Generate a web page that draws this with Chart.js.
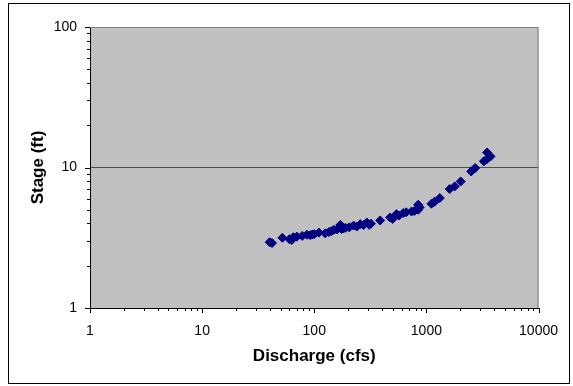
<!DOCTYPE html>
<html>
<head>
<meta charset="utf-8">
<script src="https://cdn.jsdelivr.net/npm/chart.js@4"></script>
<style>
  html, body { margin: 0; padding: 0; background: #fff; }
  canvas { display: block; }
</style>
</head>
<body>
<canvas id="rating" width="573" height="386"></canvas>
<script>
// rating curve points
const discharge = [40, 42, 52, 60, 63, 65, 70, 78, 86, 92, 96, 100, 110, 125, 135, 142, 150, 160, 171, 175,
    183, 190, 205, 224, 240, 257, 275, 294, 309, 320, 387, 474, 500, 542, 570, 622, 660, 737, 780, 845,
    845, 870, 1109, 1180, 1316, 1614, 1787, 2022, 2510, 2722, 3251, 3475, 3475, 3730];
const stage = [2.94, 2.9, 3.16, 3.09, 3.05, 3.19, 3.22, 3.26, 3.32, 3.3, 3.33, 3.36, 3.44, 3.4, 3.47, 3.52, 3.6, 3.62, 3.91, 3.65,
    3.70, 3.72, 3.75, 3.86, 3.8, 3.95, 3.9, 4.06, 3.91, 3.98, 4.20, 4.41, 4.3, 4.66, 4.55, 4.74, 4.8, 4.86, 4.9, 5.43,
    5.0, 5.2, 5.52, 5.7, 6.06, 7.03, 7.33, 7.96, 9.38, 9.92, 11.06, 11.5, 12.8, 12.0];

const xTicks = [1, 10, 100, 1000, 10000];
const yTicks = [1, 10, 100];

const points = discharge.map((q, i) => ({ x: q, y: stage[i] }));

// gray plot area, outer frame and log tick marks (Excel look)
const excelFrame = {
    id: "excelFrame",
    beforeDraw(chart) {
        const { ctx, chartArea: a } = chart;
        ctx.save();
        ctx.fillStyle = "#C0C0C0";
        ctx.fillRect(a.left, a.top, a.right - a.left, a.bottom - a.top);
        ctx.restore();
    },
    afterDraw(chart) {
        const { ctx, chartArea: a, scales } = chart;
        ctx.save();
        // top and right edge of plot area
        ctx.strokeStyle = "#808080";
        ctx.lineWidth = 1;
        ctx.beginPath();
        ctx.moveTo(a.left, a.top + 0.5);
        ctx.lineTo(a.right - 0.5, a.top + 0.5);
        ctx.lineTo(a.right - 0.5, a.bottom);
        ctx.stroke();

        // tick marks, major and minor
        ctx.strokeStyle = "#000";
        ctx.beginPath();
        for (let i = 0; i < xTicks.length; i++) {
            const d = xTicks[i];
            for (let k = 1; k <= 9; k++) {
                const v = d * k;
                if (v > xTicks[xTicks.length - 1]) break;
                const px = Math.round(scales.x.getPixelForValue(v)) + 0.5;
                const len = k === 1 ? 5 : 3;
                ctx.moveTo(px, a.bottom);
                ctx.lineTo(px, a.bottom + len);
            }
        }
        for (let i = 0; i < yTicks.length; i++) {
            const d = yTicks[i];
            for (let k = 1; k <= 9; k++) {
                const v = d * k;
                if (v > yTicks[yTicks.length - 1]) break;
                const py = Math.round(scales.y.getPixelForValue(v)) + 0.5;
                const len = k === 1 ? 5 : 3;
                ctx.moveTo(a.left, py);
                ctx.lineTo(a.left - len, py);
            }
        }
        ctx.stroke();

        // chart border
        ctx.strokeStyle = "#000";
        ctx.strokeRect(8.5, 3.5, 561, 380);
        ctx.restore();
    }
};

new Chart(document.getElementById("rating"), {
    type: "scatter",
    data: {
        datasets: [{
            data: points,
            pointStyle: "rectRot",
            pointRadius: 4.5,
            pointBorderWidth: 1,
            backgroundColor: "#000080",
            borderColor: "#000080"
        }]
    },
    options: {
        responsive: false,
        animation: false,
        devicePixelRatio: 1,
        layout: { padding: { top: 27, right: 32, left: 0, bottom: 0 } },
        plugins: {
            legend: { display: false },
            tooltip: { enabled: false }
        },
        scales: {
            x: {
                type: "logarithmic",
                min: 1,
                max: 10000,
                afterBuildTicks: s => { s.ticks = xTicks.map(v => ({ value: v })); },
                afterFit: s => { s.height = 78; },
                grid: { display: false, drawTicks: false },
                border: { display: true, color: "#000", width: 1 },
                ticks: {
                    padding: 15,
                    maxRotation: 0,
                    autoSkip: false,
                    color: "#000",
                    font: { family: "Arial, 'Liberation Sans'", size: 14 },
                    callback: v => String(v)
                },
                title: {
                    display: true,
                    text: "Discharge (cfs)",
                    color: "#000",
                    padding: { top: 0, bottom: 19 },
                    font: { family: "Arial, 'Liberation Sans'", size: 17, weight: "bold" }
                }
            },
            y: {
                type: "logarithmic",
                min: 1,
                max: 100,
                afterBuildTicks: s => { s.ticks = yTicks.map(v => ({ value: v })); },
                afterFit: s => { s.width = 90; },
                grid: {
                    drawTicks: false,
                    color: c => (c.tick && c.tick.value === 10 ? "#4d4d4d" : "rgba(0,0,0,0)"),
                    lineWidth: 1
                },
                border: { display: true, color: "#000", width: 1 },
                ticks: {
                    padding: 13,
                    autoSkip: false,
                    color: "#000",
                    font: { family: "Arial, 'Liberation Sans'", size: 14 },
                    callback: v => String(v)
                },
                title: {
                    display: true,
                    text: "Stage (ft)",
                    color: "#000",
                    padding: { top: 28, bottom: 0 },
                    font: { family: "Arial, 'Liberation Sans'", size: 17, weight: "bold" }
                }
            }
        }
    },
    plugins: [excelFrame]
});
</script>
</body>
</html>
